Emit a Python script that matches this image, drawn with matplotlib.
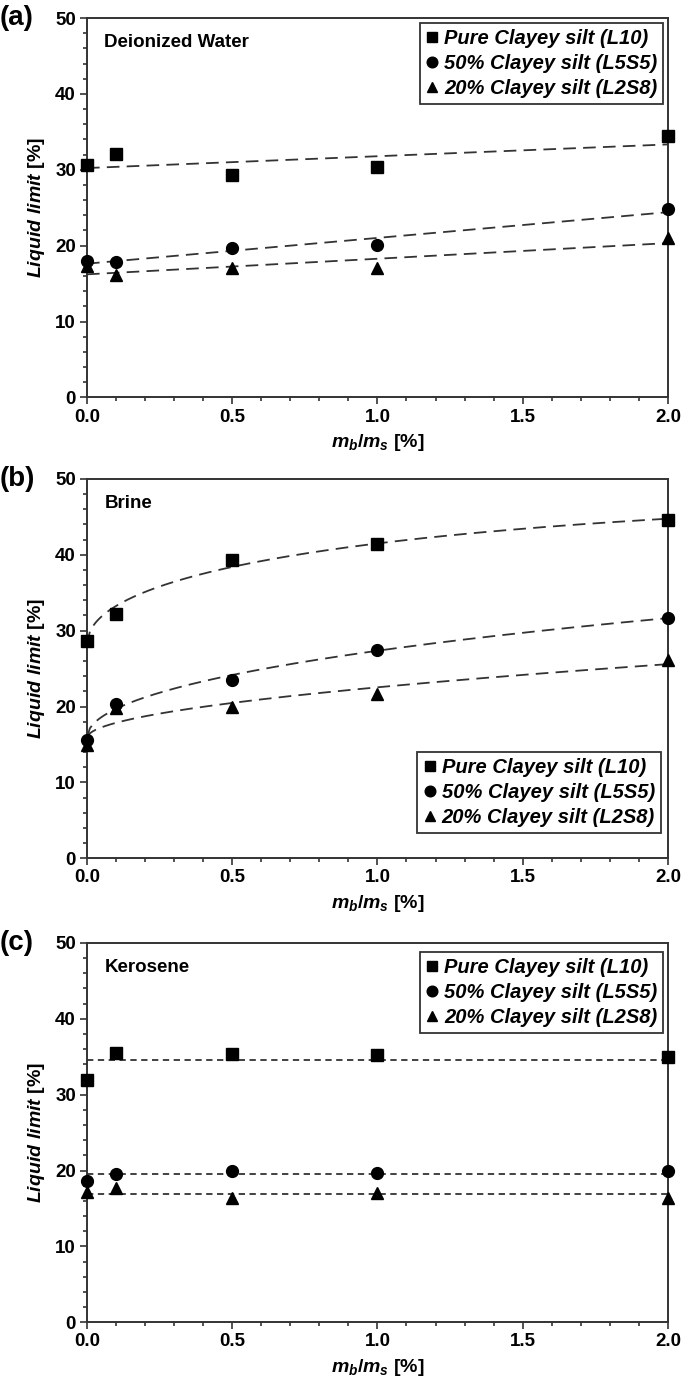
"""
Liquid limit of clayey silt mixtures vs. m_b/m_s for three pore fluids.
"""

import matplotlib.pyplot as plt
import numpy as np
from matplotlib.ticker import MultipleLocator

plt.rcParams['font.family'] = ['Liberation Sans', 'DejaVu Sans']
plt.rcParams['mathtext.fontset'] = 'custom'
plt.rcParams['mathtext.it'] = 'Liberation Sans:italic:bold'
plt.rcParams['mathtext.rm'] = 'Liberation Sans:bold'

x = [0.0, 0.1, 0.5, 1.0, 2.0]
labels = ['Pure Clayey silt (L10)', '50% Clayey silt (L5S5)', '20% Clayey silt (L2S8)']
markers = ['s', 'o', '^']

# deionized water
water_l10 = [30.6, 32.1, 29.3, 30.35, 34.4]
water_l5s5 = [18.0, 17.8, 19.65, 20.1, 24.8]
water_l2s8 = [17.3, 16.1, 17.0, 17.1, 21.0]

# brine
brine_l10 = [28.7, 32.15, 39.25, 41.4, 44.65]
brine_l5s5 = [15.65, 20.4, 23.55, 27.5, 31.7]
brine_l2s8 = [14.9, 19.8, 19.9, 21.6, 26.1]

# kerosene
kero_l10 = [32.0, 35.5, 35.4, 35.2, 35.0]
kero_l5s5 = [18.6, 19.55, 19.9, 19.7, 19.9]
kero_l2s8 = [17.2, 17.7, 16.4, 17.0, 16.4]


def sqrt_fit(xs, ys):
    xs = np.asarray(xs)
    A = np.column_stack([np.ones_like(xs), xs, np.sqrt(xs)])
    coef = np.linalg.lstsq(A, np.asarray(ys), rcond=None)[0]
    xx = np.linspace(0, 2, 200)
    return xx, coef[0] + coef[1] * xx + coef[2] * np.sqrt(xx)


def lin_fit(xs, ys):
    p = np.polyfit(xs, ys, 1)
    xx = np.linspace(0, 2, 50)
    return xx, np.polyval(p, xx)


def mean_fit(xs, ys):
    xx = np.array([0, 2])
    return xx, np.full(2, np.mean(ys))


panels = [
    ('(a)', 'Deionized Water', [water_l10, water_l5s5, water_l2s8], lin_fit, (7, 4),
     'upper right', (0.992, 0.987), 0.9869),
    ('(b)', 'Brine', [brine_l10, brine_l5s5, brine_l2s8], sqrt_fit, (7, 4),
     'lower right', (0.988, 0.066), 0.6522),
    ('(c)', 'Kerosene', [kero_l10, kero_l5s5, kero_l2s8], mean_fit, (3.5, 2.5),
     'upper right', (0.992, 0.977), 0.3152),
]

fig = plt.figure(figsize=(6.85, 13.77), dpi=100)
h = 0.2755

for tag, fluid, series, fit, dash, loc, anchor, top in panels:
    ax = fig.add_axes([0.127, top - h, 0.848, h])
    for ys, m, lab in zip(series, markers, labels):
        xx, yy = fit(x, ys)
        ax.plot(xx, yy, color='#333333', lw=1.3, dashes=dash, zorder=2)
        ax.plot(x, ys, ls='none', marker=m, ms=8.5, color='black', label=lab,
                clip_on=False, zorder=3)

    ax.set_xlim(0, 2)
    ax.set_ylim(0, 50)
    ax.xaxis.set_major_locator(MultipleLocator(0.5))
    ax.xaxis.set_minor_locator(MultipleLocator(0.1))
    ax.yaxis.set_major_locator(MultipleLocator(10))
    ax.yaxis.set_minor_locator(MultipleLocator(2))
    ax.xaxis.set_major_formatter(plt.FormatStrFormatter('%.1f'))
    ax.tick_params(which='both', direction='out', labelsize=13.5, color='#333333', width=1.2, pad=3)
    ax.tick_params(which='major', length=5)
    ax.tick_params(which='minor', length=3)
    for t in ax.get_xticklabels() + ax.get_yticklabels():
        t.set_fontweight('bold')
    for s in ax.spines.values():
        s.set_color('#333333')
        s.set_linewidth(1.4)

    ax.set_xlabel(r'$m_b$/$m_s$ [%]', fontsize=14, fontweight='bold', labelpad=5)
    ax.set_ylabel(r'$\mathit{Liquid\ limit}$ [%]', fontsize=14, fontweight='bold', labelpad=6)
    ax.text(0.03, 0.935, fluid, transform=ax.transAxes, fontsize=13.5, fontweight='bold',
            va='center', ha='left')
    ax.text(-0.15, 1.0, tag, transform=ax.transAxes, fontsize=20, fontweight='bold',
            va='center', ha='left')

    leg = ax.legend(loc=loc, bbox_to_anchor=anchor, borderaxespad=0,
                    prop={'weight': 'bold', 'style': 'italic', 'size': 14.5},
                    handlelength=0.6, handletextpad=0.3, borderpad=0.3, labelspacing=0.3,
                    fancybox=False, edgecolor='#333333', framealpha=1, markerscale=0.9)
    leg.get_frame().set_linewidth(1.3)

fig.savefig('out.png', dpi=100)
